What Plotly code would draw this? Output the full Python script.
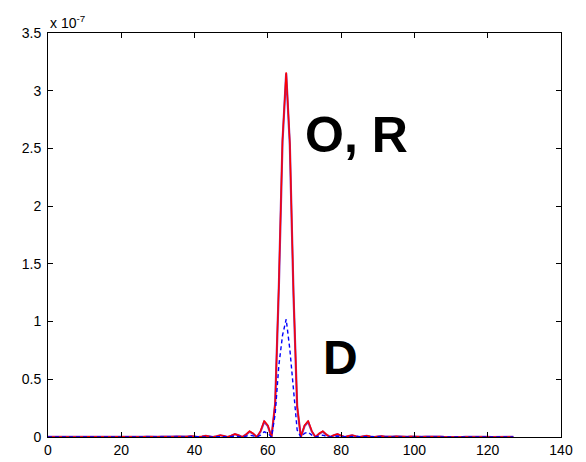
import plotly.graph_objects as go

# x samples
x = list(range(128))

# values in units of 1e-7
R = [0.0006, 0.0, 0.0006, 0.0013, 0.0007, 0.0, 0.0007, 0.0015, 0.0008, 0.0, 0.0008, 0.0017,
     0.0009, 0.0, 0.001, 0.002, 0.0011, 0.0, 0.0012, 0.0024, 0.0013, 0.0, 0.0014, 0.0029,
     0.0015, 0.0, 0.0017, 0.0035, 0.0019, 0.0, 0.0021, 0.0044, 0.0023, 0.0, 0.0027, 0.0057,
     0.003, 0.0, 0.0035, 0.0075, 0.0041, 0.0, 0.0048, 0.0105, 0.0058, 0.0, 0.0071, 0.016,
     0.0088, 0.0, 0.0113, 0.026, 0.0151, 0.0, 0.021, 0.051, 0.031, 0.0, 0.052, 0.142,
     0.102, 0.0, 0.30, 1.33, 2.58, 3.16, 2.55, 1.25, 0.27, 0.0, 0.102, 0.142,
     0.052, 0.0, 0.031, 0.051, 0.021, 0.0, 0.0151, 0.026, 0.0113, 0.0, 0.0088, 0.016,
     0.0071, 0.0, 0.0058, 0.0105, 0.0048, 0.0, 0.0041, 0.0075, 0.0035, 0.0, 0.003, 0.0057,
     0.0027, 0.0, 0.0023, 0.0044, 0.0021, 0.0, 0.0019, 0.0035, 0.0017, 0.0, 0.0015, 0.0029,
     0.0014, 0.0, 0.0013, 0.0024, 0.0012, 0.0, 0.0011, 0.002, 0.001, 0.0, 0.0009, 0.0017,
     0.0008, 0.0, 0.0008, 0.0015, 0.0007, 0.0, 0.0007, 0.0013]

O = [0.0005, 0.0, 0.0005, 0.0012, 0.0006, 0.0, 0.0006, 0.0014, 0.0007, 0.0, 0.0007, 0.0016,
     0.0008, 0.0, 0.0009, 0.0019, 0.001, 0.0, 0.0011, 0.0022, 0.0012, 0.0, 0.0013, 0.0027,
     0.0014, 0.0, 0.0016, 0.0033, 0.0018, 0.0, 0.002, 0.0041, 0.0022, 0.0, 0.0025, 0.0053,
     0.0028, 0.0, 0.0033, 0.007, 0.0038, 0.0, 0.0045, 0.0098, 0.0054, 0.0, 0.0066, 0.015,
     0.0082, 0.0, 0.0105, 0.024, 0.014, 0.0, 0.019, 0.047, 0.028, 0.0, 0.047, 0.132,
     0.095, 0.0, 0.29, 1.30, 2.56, 3.15, 2.53, 1.23, 0.26, 0.0, 0.095, 0.132,
     0.047, 0.0, 0.028, 0.047, 0.019, 0.0, 0.014, 0.024, 0.0105, 0.0, 0.0082, 0.015,
     0.0066, 0.0, 0.0054, 0.0098, 0.0045, 0.0, 0.0038, 0.007, 0.0033, 0.0, 0.0028, 0.0053,
     0.0025, 0.0, 0.0022, 0.0041, 0.002, 0.0, 0.0018, 0.0033, 0.0016, 0.0, 0.0014, 0.0027,
     0.0013, 0.0, 0.0012, 0.0022, 0.0011, 0.0, 0.001, 0.0019, 0.0009, 0.0, 0.0008, 0.0016,
     0.0007, 0.0, 0.0007, 0.0014, 0.0006, 0.0, 0.0006, 0.0012]

D = [0.0002, 0.0, 0.0002, 0.0004, 0.0002, 0.0, 0.0002, 0.0005, 0.0003, 0.0, 0.0003, 0.0005,
     0.0003, 0.0, 0.0003, 0.0006, 0.0003, 0.0, 0.0004, 0.0007, 0.0004, 0.0, 0.0004, 0.0009,
     0.0005, 0.0, 0.0005, 0.0011, 0.0006, 0.0, 0.0007, 0.0014, 0.0007, 0.0, 0.0008, 0.0018,
     0.0009, 0.0, 0.0011, 0.0024, 0.0013, 0.0, 0.0015, 0.0033, 0.0018, 0.0, 0.0022, 0.005,
     0.0027, 0.0, 0.0035, 0.008, 0.0047, 0.0, 0.0065, 0.016, 0.0095, 0.0, 0.016, 0.045,
     0.032, 0.0, 0.20, 0.62, 0.88, 1.02, 0.76, 0.38, 0.06, 0.0, 0.032, 0.042,
     0.016, 0.0, 0.0095, 0.016, 0.0065, 0.0, 0.0047, 0.008, 0.0035, 0.0, 0.0027, 0.005,
     0.0022, 0.0, 0.0018, 0.0033, 0.0015, 0.0, 0.0013, 0.0024, 0.0011, 0.0, 0.0009, 0.0018,
     0.0008, 0.0, 0.0007, 0.0014, 0.0007, 0.0, 0.0006, 0.0011, 0.0005, 0.0, 0.0005, 0.0009,
     0.0004, 0.0, 0.0004, 0.0007, 0.0004, 0.0, 0.0003, 0.0006, 0.0003, 0.0, 0.0003, 0.0005,
     0.0003, 0.0, 0.0002, 0.0005, 0.0002, 0.0, 0.0002, 0.0004]

x_ticks = [0, 20, 40, 60, 80, 100, 120, 140]
y_ticks = [0, 0.5, 1, 1.5, 2, 2.5, 3, 3.5]
y_tick_labels = ["0", "0.5", "1", "1.5", "2", "2.5", "3", "3.5"]

FONT = "Arial, Liberation Sans, sans-serif"

fig = go.Figure()
fig.add_trace(go.Scatter(x=x, y=O, mode="lines", name="O",
                         line=dict(color="rgb(140,50,170)", width=2.2)))
fig.add_trace(go.Scatter(x=x, y=R, mode="lines", name="R",
                         line=dict(color="#ff0000", width=1.4)))
fig.add_trace(go.Scatter(x=x, y=D, mode="lines", name="D",
                         line=dict(color="#0000ff", width=1.4, dash="4px,3px")))

fig.update_layout(
    width=586, height=462,
    margin=dict(l=48, r=25, t=33, b=25, autoexpand=False),
    paper_bgcolor="white", plot_bgcolor="white",
    showlegend=False,
    font=dict(family=FONT, size=14, color="black"),
    xaxis=dict(range=[0, 140], tickvals=x_ticks, ticks="inside", ticklen=5,
               tickcolor="black", showline=True, linecolor="black", linewidth=1,
               mirror="ticks", showgrid=False, zeroline=False, automargin=False,
               tickfont=dict(family=FONT, size=14, color="black")),
    yaxis=dict(range=[0, 3.5], tickvals=y_ticks, ticktext=y_tick_labels,
               ticks="inside", ticklen=5, tickcolor="black", showline=True,
               linecolor="black", linewidth=1, mirror="ticks", showgrid=False,
               zeroline=False, automargin=False, ticklabelstandoff=3,
               tickfont=dict(family=FONT, size=14, color="black")),
    annotations=[
        dict(text="x 10<sup>-7</sup>", xref="paper", yref="paper", x=0.0, y=1.0,
             xanchor="left", yanchor="bottom", showarrow=False,
             font=dict(family=FONT, size=14, color="black"), yshift=0),
        dict(text="<b>O, R</b>", xref="x", yref="y", x=84.1, y=2.62,
             showarrow=False, font=dict(family=FONT, size=50, color="black")),
        dict(text="<b>D</b>", xref="x", yref="y", x=79.7, y=0.685,
             showarrow=False, font=dict(family=FONT, size=48, color="black")),
    ],
)

fig.write_html("out.html")
